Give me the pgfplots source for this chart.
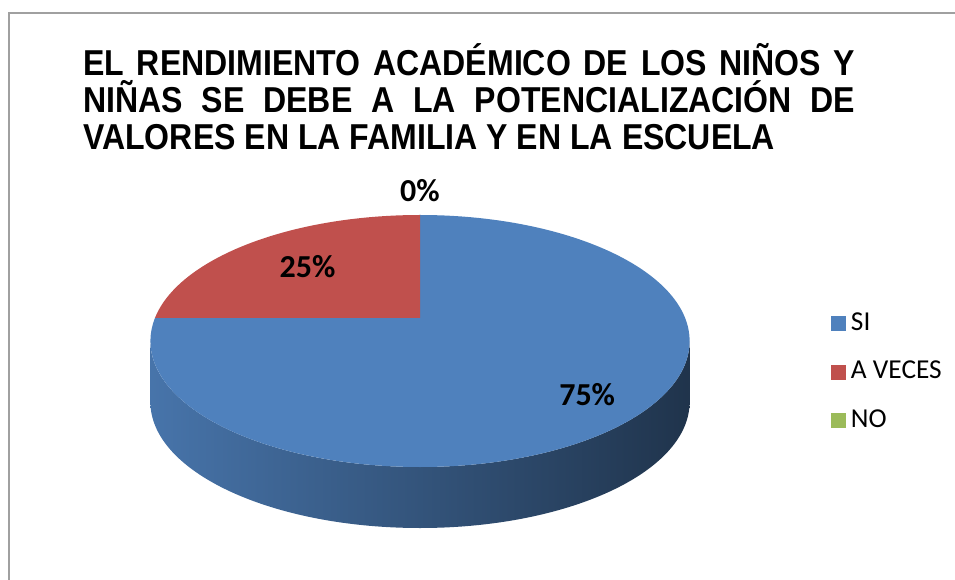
\documentclass[border=0pt]{standalone}
\usepackage{pgfplots}
\usepackage{pgfplotstable}
\pgfplotsset{compat=1.18}
\usepackage{fontspec}
\setmainfont{Carlito}
\newfontfamily\titlefont{Liberation Sans}[FakeStretch=0.89]

\definecolor{siblue}{RGB}{79,129,189}
\definecolor{avred}{RGB}{192,80,77}
\definecolor{nogreen}{RGB}{155,187,89}
\definecolor{framegray}{RGB}{160,160,160}

% slices in Excel order, clockwise from 12 o'clock
\pgfplotstableread[col sep=comma]{
label,value,labelpos,color
SI,75,0.8,siblue
A VECES,25,0.65,avred
NO,0,1.29,nogreen
}\piedata

% pie geometry, in pixels of a 955x580 picture (y downwards)
\def\pcx{420}   % apex of the slices
\def\pcy{318}
\def\pa{265}    % perspective half-width
\def\pb{121.8}  % perspective half-depth
\def\pk{0.1825} % perspective strength
\def\ecy{341}   % centre of the drawn ellipse
\def\erx{269.6}
\def\ery{126}
\def\depth{61}

% perspective angle -> parameter angle on the drawn ellipse
\newcommand\ellparam[2]{%
  \pgfmathsetmacro\pden{1+\pk*sin(#1)}%
  \pgfmathsetmacro\pux{round(1000*((\pa/\erx)*cos(#1)/\pden))/1000}%
  \pgfmathsetmacro\puy{round(1000*((\pb*sin(#1)/\pden+\ecy-\pcy)/\ery))/1000}%
  \pgfmathparse{abs(\pux)<0.002 ? 1 : 0}%
  \ifnum\pgfmathresult=1
    \pgfmathsetmacro#2{\puy>0 ? 90 : -90}%
  \else
    \pgfmathsetmacro#2{atan2(\puy,\pux)}%
  \fi
}

\newcommand\legsquare[1]{\fill[#1] (0pt,-5.25pt) rectangle (10.5pt,5.25pt); \path (13.5pt,0pt);}

\begin{document}
\begin{tikzpicture}
\begin{axis}[
    at={(0,0)}, anchor=south west,
    scale only axis, width=716.25pt, height=435pt,
    xmin=0, xmax=955, ymin=0, ymax=580, y dir=reverse,
    hide axis, clip=false,
    legend style={
        at={(0.870,0.3586)}, anchor=west,
        draw=none, fill=none, inner sep=0pt,
        font=\fontsize{20.5}{24}\selectfont,
        row sep=16.5pt,
        nodes={inner sep=1pt, anchor=west, text height=14pt, text depth=4pt},
    },
    legend cell align=left,
]
\addlegendimage{legend image code/.code={\legsquare{siblue}}}
\addlegendentry{SI}
\addlegendimage{legend image code/.code={\legsquare{avred}}}
\addlegendentry{A VECES}
\addlegendimage{legend image code/.code={\legsquare{nogreen}}}
\addlegendentry{NO}

\pgfplotsextra{
  \pgfplotstablegetrowsof{\piedata}
  \pgfmathtruncatemacro\nrows{\pgfplotsretval-1}
  \xdef\total{0}
  \foreach \i in {0,...,\nrows}{
    \pgfplotstablegetelem{\i}{value}\of\piedata
    \pgfmathparse{\total+\pgfplotsretval}\xdef\total{\pgfmathresult}
  }
  % sides and top faces
  \xdef\phistart{90}
  \foreach \i in {0,...,\nrows}{
    \pgfplotstablegetelem{\i}{value}\of\piedata \let\sval\pgfplotsretval
    \pgfplotstablegetelem{\i}{color}\of\piedata \let\scol\pgfplotsretval
    \pgfmathsetmacro\phiend{\phistart-360*(\sval/\total)}
    \pgfmathparse{\sval>0 ? 1 : 0}
    \ifnum\pgfmathresult=1
      \ellparam{\phistart}\tS
      \ellparam{\phiend}\tE
      \pgfmathparse{\tE>=\tS ? \tE-360 : \tE}\let\tE\pgfmathresult
      % visible side, front half of the rim
      \foreach \off in {-360,0,360}{
        \pgfmathsetmacro\tlo{max(\tE,\off-180)}
        \pgfmathsetmacro\thi{min(\tS,\off)}
        \pgfmathparse{\thi>\tlo ? 1 : 0}
        \ifnum\pgfmathresult=1
          \pgfmathsetmacro\hx{\pcx+\erx*cos(\thi)}
          \pgfmathsetmacro\hy{\ecy-\ery*sin(\thi)}
          \pgfmathsetmacro\lx{\pcx+\erx*cos(\tlo)}
          \pgfmathsetmacro\ly{\ecy-\ery*sin(\tlo)+\depth}
          \shade[left color=\scol!90!black, right color=\scol!40!black]
            (axis cs:\hx,\hy)
            arc[start angle=\thi, end angle=\tlo, x radius=0.75pt*\erx, y radius=0.75pt*\ery]
            -- (axis cs:\lx,\ly)
            arc[start angle=\tlo, end angle=\thi, x radius=0.75pt*\erx, y radius=0.75pt*\ery]
            -- cycle;
        \fi
      }
      \pgfmathsetmacro\sx{\pcx+\erx*cos(\tS)}
      \pgfmathsetmacro\sy{\ecy-\ery*sin(\tS)}
      \fill[\scol] (axis cs:\pcx,\pcy) -- (axis cs:\sx,\sy)
        arc[start angle=\tS, end angle=\tE, x radius=0.75pt*\erx, y radius=0.75pt*\ery]
        -- cycle;
    \fi
    \xdef\phistart{\phiend}
  }
  % percentage labels
  \xdef\phistart{90}
  \foreach \i in {0,...,\nrows}{
    \pgfplotstablegetelem{\i}{value}\of\piedata \let\sval\pgfplotsretval
    \pgfplotstablegetelem{\i}{labelpos}\of\piedata \let\lf\pgfplotsretval
    \pgfmathsetmacro\phiend{\phistart-360*(\sval/\total)}
    \pgfmathsetmacro\phimid{(\phistart+\phiend)/2}
    \pgfmathsetmacro\pden{1+\pk*\lf*sin(\phimid)}
    \pgfmathsetmacro\mx{\pcx+\pa*\lf*cos(\phimid)/\pden}
    \pgfmathsetmacro\my{\pcy-\pb*\lf*sin(\phimid)/\pden}
    \pgfmathtruncatemacro\pct{round(100*(\sval/\total))}
    \node[font=\bfseries\fontsize{24}{28}\selectfont, inner sep=0pt]
      at (axis cs:\mx,\my) {\pct\%};
    \xdef\phistart{\phiend}
  }
}

% chart frame and title
\draw[framegray, line width=1.5pt] (axis cs:8.5,580) -- (axis cs:8.5,13) -- (axis cs:955,13);
\node[anchor=base west, inner sep=0pt] at (axis cs:83,76)
  {\titlefont\bfseries\fontsize{27}{32}\selectfont\makebox[579pt][s]{EL RENDIMIENTO ACADÉMICO DE LOS NIÑOS Y}};
\node[anchor=base west, inner sep=0pt] at (axis cs:83,113)
  {\titlefont\bfseries\fontsize{27}{32}\selectfont\makebox[579pt][s]{NIÑAS SE DEBE A LA POTENCIALIZACIÓN DE}};
\node[anchor=base west, inner sep=0pt] at (axis cs:83,150)
  {\titlefont\bfseries\fontsize{27}{32}\selectfont VALORES EN LA FAMILIA Y EN LA ESCUELA};
\end{axis}
\pgfresetboundingbox
\useasboundingbox (0,0) rectangle (716.25pt,435pt);
\end{tikzpicture}
\end{document}
